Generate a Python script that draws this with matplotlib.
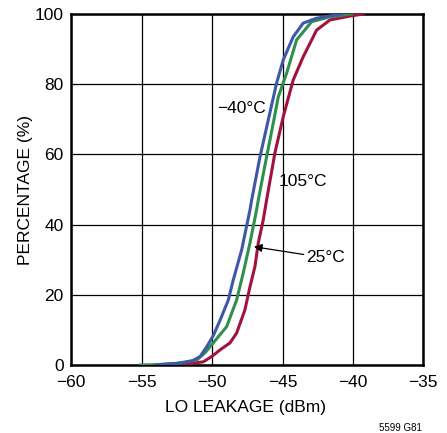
import matplotlib
matplotlib.use("Agg")
import matplotlib.pyplot as plt
from matplotlib import font_manager

# LO leakage cumulative distributions
blue_x = [-54.0, -53.0, -52.1, -51.4, -50.86, -50.38, -49.9, -49.43, -48.85, -48.5,
          -47.9, -47.31, -47.19, -46.6, -46.0, -45.42, -44.95, -44.24, -43.53, -42.58,
          -41.5, -40.8]
blue_y = [0.0, 0.3, 0.6, 1.2, 2.4, 5.2, 8.5, 12.8, 18.5, 24.2,
          32.8, 44.2, 47.0, 59.3, 70.0, 80.3, 86.9, 93.5, 97.4, 98.8,
          99.5, 100.0]

green_x = [-55.1, -54.0, -52.5, -51.1, -50.5, -49.92, -48.97, -48.26, -47.79, -47.31,
           -46.84, -46.72, -46.13, -45.7, -45.3, -44.71, -44.0, -42.93, -41.63, -40.09]
green_y = [0.0, 0.1, 0.5, 1.4, 3.5, 6.3, 10.9, 18.5, 26.2, 34.8,
           44.2, 47.0, 59.3, 68.0, 76.4, 83.1, 92.6, 97.8, 99.2, 100.0]

red_x = [-53.5, -52.05, -50.63, -50.0, -49.44, -48.73, -48.26, -47.67, -47.31, -46.96,
         -46.72, -46.37, -46.13, -45.54, -44.95, -44.24, -43.53, -42.58, -41.63, -40.21,
         -39.27]
red_y = [0.0, 0.2, 0.9, 2.5, 4.3, 6.3, 9.1, 15.7, 22.3, 28.0,
         34.8, 41.3, 47.0, 60.4, 70.7, 81.2, 87.8, 95.4, 98.3, 99.4,
         100.0]

x_ticks = [-60, -55, -50, -45, -40, -35]
y_ticks = [0, 20, 40, 60, 80, 100]

names = [f.name for f in font_manager.fontManager.ttflist]
if "Liberation Sans Narrow" in names:
    plt.rcParams['font.family'] = ['Liberation Sans Narrow', 'DejaVu Sans']
    fs = 13.5
else:
    plt.rcParams['font.family'] = ['Liberation Sans', 'DejaVu Sans']
    fs = 12.5

fig = plt.figure(figsize=(4.47, 4.33), dpi=100)
ax = fig.add_axes([0.1595, 0.157, 0.7875, 0.8107])

ax.plot(red_x, red_y, color='#a3123f', lw=2.2, zorder=3)
ax.plot(green_x, green_y, color='#2f8f4e', lw=2.2, zorder=4)
ax.plot(blue_x, blue_y, color='#3d58a8', lw=2.2, zorder=5)

ax.set_xlim(-60, -35)
ax.set_ylim(0, 100)
ax.set_xticks(x_ticks)
ax.set_yticks(y_ticks)
ax.set_xticklabels([f"\u2212{abs(v)}" for v in x_ticks])
ax.grid(True, color='black', lw=0.9)
ax.set_axisbelow(True)
ax.tick_params(axis='x', length=0, labelsize=fs, pad=7)
ax.tick_params(axis='y', length=0, labelsize=fs, pad=5.5)
for s in ax.spines.values():
    s.set_linewidth(1.8)

ax.set_xlabel("LO LEAKAGE (dBm)", fontsize=fs)
ax.set_ylabel("PERCENTAGE (%)", fontsize=fs)
ax.xaxis.set_label_coords(0.496, -0.10)
ax.yaxis.set_label_coords(-0.109, 0.5)

ax.text(-47.9, 73.1, "\u221240\u00b0C", fontsize=fs, ha='center', va='center')
ax.text(-43.58, 52.3, "105\u00b0C", fontsize=fs, ha='center', va='center')
ax.annotate("25\u00b0C", xy=(-47.03, 33.7), xytext=(-43.3, 30.5),
            fontsize=fs, ha='left', va='center',
            arrowprops=dict(arrowstyle='-|>', color='black', lw=0.9,
                            mutation_scale=12, shrinkA=0, shrinkB=0))

fig.text(0.943, 0.0115, "5599 G81", fontsize=7, ha='right', va='center')

fig.savefig("out.png", dpi=100)
